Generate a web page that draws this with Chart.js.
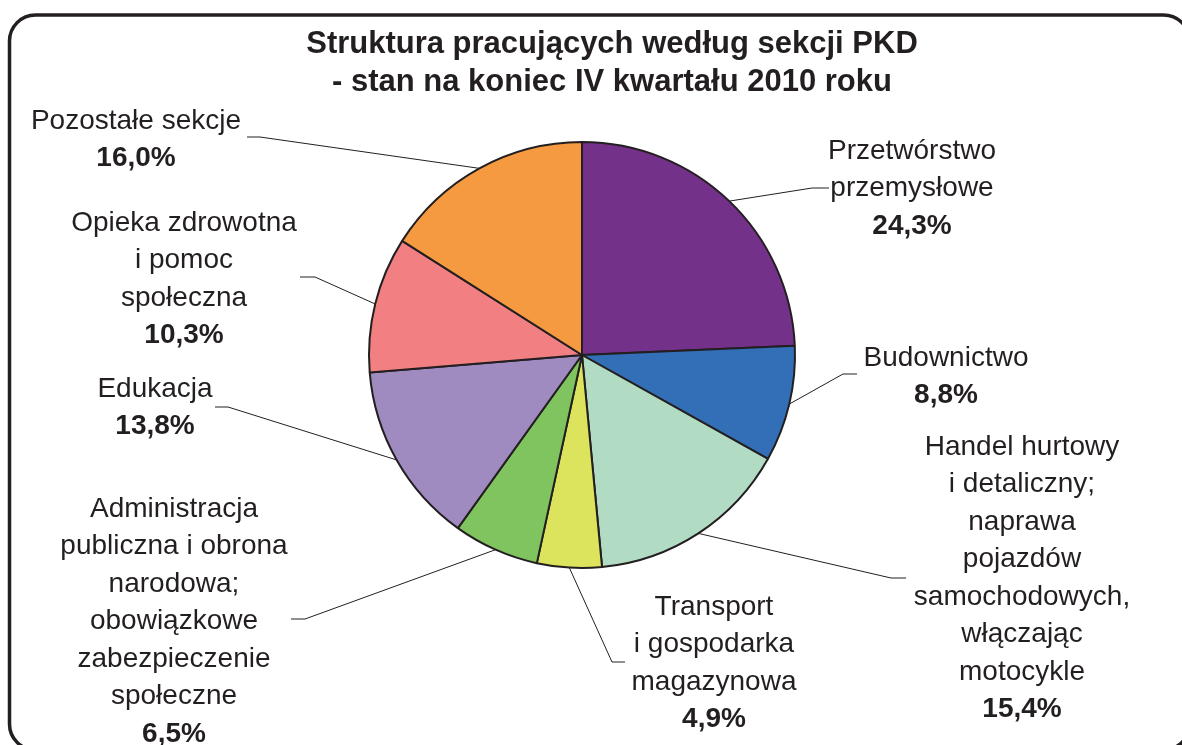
<!DOCTYPE html>
<html lang="pl">
<head>
<meta charset="utf-8">
<title>Struktura pracujących według sekcji PKD</title>
<script src="https://cdn.jsdelivr.net/npm/chart.js@4/dist/chart.umd.min.js"></script>
<style>
  html, body { margin: 0; padding: 0; background: #fff; }
  #wrap { width: 1182px; height: 745px; }
</style>
</head>
<body>
<div id="wrap"><canvas id="pkdChart" width="1182" height="745"></canvas></div>
<script>
// Data
const titleLines = [
  "Struktura pracujących według sekcji PKD",
  "- stan na koniec IV kwartału 2010 roku"
];
const categories = [
  "Przetwórstwo przemysłowe",
  "Budownictwo",
  "Handel hurtowy i detaliczny; naprawa pojazdów samochodowych, włączając motocykle",
  "Transport i gospodarka magazynowa",
  "Administracja publiczna i obrona narodowa; obowiązkowe zabezpieczenie społeczne",
  "Edukacja",
  "Opieka zdrowotna i pomoc społeczna",
  "Pozostałe sekcje"
];
const shares = [24.3, 8.8, 15.4, 4.9, 6.5, 13.8, 10.3, 16.0];

// how each category name is broken into lines on the picture
const labelLines = [
  ["Przetwórstwo", "przemysłowe"],
  ["Budownictwo"],
  ["Handel hurtowy", "i detaliczny;", "naprawa", "pojazdów", "samochodowych,", "włączając", "motocykle"],
  ["Transport", "i gospodarka", "magazynowa"],
  ["Administracja", "publiczna i obrona", "narodowa;", "obowiązkowe", "zabezpieczenie", "społeczne"],
  ["Edukacja"],
  ["Opieka zdrowotna", "i pomoc", "społeczna"],
  ["Pozostałe sekcje"]
];

const sliceColors = ["#74318A", "#336FB7", "#B1DCC3", "#DCE35C", "#7FC45F", "#A08BC0", "#F28083", "#F59A41"];
const ink = "#231F20";
const fontFamily = "'Liberation Sans', Arial, Helvetica, sans-serif";

// label layout: text centre x, first line y, leader elbow and end of its short horizontal piece
const labelLayout = [
  { cx: 912, top: 151, elbow: [812, 188], end: 829 },
  { cx: 946, top: 358, elbow: [843, 374], end: 857 },
  { cx: 1022, top: 447, elbow: [891, 578], end: 906 },
  { cx: 714, top: 607, elbow: [612, 662], end: 625 },
  { cx: 174, top: 509, elbow: [305, 619], end: 291 },
  { cx: 155, top: 389, elbow: [228, 407], end: 215 },
  { cx: 184, top: 223, elbow: [315, 277], end: 300 },
  { cx: 136, top: 121, elbow: [260, 137], end: 247 }
];
const lineStep = 37.5;

function pct(v) {
  return v.toFixed(1).replace(".", ",") + "%";
}

// frame and title
const framePlugin = {
  id: "frameAndTitle",
  afterDraw(chart) {
    const ctx = chart.ctx;
    ctx.save();
    ctx.strokeStyle = ink;
    ctx.lineWidth = 3.5;
    ctx.beginPath();
    ctx.roundRect(9.5, 15, 1180, 735, 26);
    ctx.stroke();

    ctx.fillStyle = ink;
    ctx.font = "bold 31px " + fontFamily;
    ctx.textAlign = "center";
    ctx.textBaseline = "middle";
    ctx.fillText(titleLines[0], 612, 44);
    ctx.fillText(titleLines[1], 612, 82);
    ctx.restore();
  }
};

// outside labels with leader lines
const sliceLabels = {
  id: "sliceLabels",
  afterDatasetsDraw(chart) {
    const ctx = chart.ctx;
    const meta = chart.getDatasetMeta(0);
    const values = chart.data.datasets[0].data;
    ctx.save();
    meta.data.forEach((arc, i) => {
      const p = arc.getProps(["x", "y", "startAngle", "endAngle", "outerRadius"], true);
      const mid = (p.startAngle + p.endAngle) / 2;
      const sx = p.x + Math.cos(mid) * p.outerRadius;
      const sy = p.y + Math.sin(mid) * p.outerRadius;
      const L = labelLayout[i];

      ctx.strokeStyle = ink;
      ctx.lineWidth = 1;
      ctx.beginPath();
      ctx.moveTo(sx, sy);
      ctx.lineTo(L.elbow[0], L.elbow[1]);
      ctx.lineTo(L.end, L.elbow[1]);
      ctx.stroke();

      ctx.fillStyle = ink;
      ctx.textAlign = "center";
      ctx.textBaseline = "middle";
      ctx.font = "28px " + fontFamily;
      const lines = labelLines[i];
      lines.forEach((t, k) => {
        ctx.fillText(t, L.cx, L.top + k * lineStep);
      });
      ctx.font = "bold 28px " + fontFamily;
      ctx.fillText(pct(values[i]), L.cx, L.top + lines.length * lineStep);
    });
    ctx.restore();
  }
};

const config = {
  type: "pie",
  data: {
    labels: categories,
    datasets: [{
      data: shares,
      backgroundColor: sliceColors,
      borderColor: ink,
      borderWidth: 2,
      radius: 213
    }]
  },
  options: {
    responsive: false,
    animation: false,
    events: [],
    layout: {
      // puts the pie centre at (582, 355)
      padding: { left: 0, right: 18, top: 0, bottom: 35 }
    },
    plugins: {
      legend: { display: false },
      tooltip: { enabled: false },
      title: { display: false }
    }
  },
  plugins: [sliceLabels, framePlugin]
};

const pkdChart = new Chart(document.getElementById("pkdChart"), config);
</script>
</body>
</html>
